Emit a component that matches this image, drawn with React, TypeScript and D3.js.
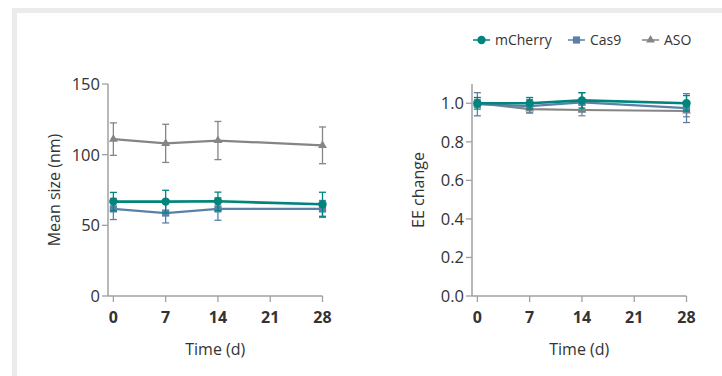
import React from "react";
import * as d3 from "d3";

const days = [0, 7, 14, 28];
const xTicks = [0, 7, 14, 21, 28];

const sizeMCherry = [66.8, 66.8, 67, 64.9];
const sizeMCherryErr = [6.5, 8, 6.5, 8.5];
const sizeCas9 = [61.6, 58.7, 61.6, 61.6];
const sizeCas9Err = [7.5, 7, 8, 6];
const sizeASO = [111, 108, 110, 106.6];
const sizeASOErr = [11.5, 13.5, 13.5, 13];
const sizeTicks = [0, 50, 100, 150];

const eeMCherry = [1.0, 1.0, 1.015, 1.0];
const eeMCherryErr = [0.03, 0.03, 0.04, 0.04];
const eeCas9 = [0.995, 0.985, 1.005, 0.975];
const eeCas9Err = [0.06, 0.035, 0.05, 0.075];
const eeASO = [1.0, 0.97, 0.965, 0.96];
const eeASOErr = [0.02, 0.02, 0.03, 0.03];
const eeTicks = [0, 0.2, 0.4, 0.6, 0.8, 1.0];

const seriesNames = ["mCherry", "Cas9", "ASO"];
const colors = ["#00857c", "#5b80a8", "#858585"];
const FONT = "'Open Sans', 'Noto Sans', sans-serif";
const AXIS = "#a0a0a0";
const TEXT = "#333";

function Marker({ kind, x, y, color }: { kind: number; x: number; y: number; color: string }) {
  if (kind === 0) return <circle cx={x} cy={y} r={4.2} fill={color} />;
  if (kind === 1) return <rect x={x - 3.6} y={y - 3.6} width={7.2} height={7.2} fill={color} />;
  const s = d3.symbol().type(d3.symbolTriangle).size(34)();
  return <path d={s || ""} transform={`translate(${x},${y})`} fill={color} />;
}

function Panel({
  left, yDomain, ticks, fmt, title, series, errs,
}: {
  left: number; yDomain: [number, number]; ticks: number[]; fmt: (v: number) => string;
  title: string; series: number[][]; errs: number[][];
}) {
  const x = d3.scaleLinear().domain([-0.72, 28]).range([left, left + 214.5]);
  const y = d3.scaleLinear().domain(yDomain).range([296, 84]);
  const order = [2, 1, 0];
  return (
    <g>
      <line x1={left} x2={left} y1={y(yDomain[1])} y2={y(0)} stroke={AXIS} strokeWidth={1.5} />
      <line x1={left} x2={x(28)} y1={y(0)} y2={y(0)} stroke={AXIS} strokeWidth={1.5} />
      {ticks.map((t) => (
        <g key={"y" + t}>
          <line x1={left - 6} x2={left} y1={y(t)} y2={y(t)} stroke={AXIS} strokeWidth={1.3} />
          <text x={left - 8} y={y(t)} dy="0.36em" textAnchor="end" fontSize={16.5} fill={TEXT} fontFamily={FONT}>
            {fmt(t)}
          </text>
        </g>
      ))}
      {xTicks.map((t) => (
        <g key={"x" + t}>
          <line x1={x(t)} x2={x(t)} y1={y(0)} y2={y(0) + 6} stroke={AXIS} strokeWidth={1.3} />
          <text x={x(t)} y={323} textAnchor="middle" fontSize={16} fontWeight="bold" fill={TEXT} fontFamily={FONT}>
            {t}
          </text>
        </g>
      ))}
      <text x={(left + x(28)) / 2} y={355} textAnchor="middle" fontSize={16} fill={TEXT} fontFamily={FONT}>
        Time (d)
      </text>
      <text
        transform={`translate(${left - 54},${190}) rotate(-90)`}
        textAnchor="middle"
        dy="0.35em"
        fontSize={16}
        fill={TEXT}
        fontFamily={FONT}
      >
        {title}
      </text>
      {order.map((si) => {
        const vals = series[si];
        const er = errs[si];
        const line = d3
          .line<number>()
          .x((_, i) => x(days[i]))
          .y((v) => y(v));
        return (
          <g key={si}>
            {vals.map((v, i) => (
              <g key={i} stroke={colors[si]} strokeWidth={1.3}>
                <line x1={x(days[i])} x2={x(days[i])} y1={y(v - er[i])} y2={y(v + er[i])} />
                <line x1={x(days[i]) - 3.5} x2={x(days[i]) + 3.5} y1={y(v + er[i])} y2={y(v + er[i])} />
                <line x1={x(days[i]) - 3.5} x2={x(days[i]) + 3.5} y1={y(v - er[i])} y2={y(v - er[i])} />
              </g>
            ))}
            <path d={line(vals) || ""} fill="none" stroke={colors[si]} strokeWidth={si === 0 ? 2.6 : 2.2} />
            {vals.map((v, i) => (
              <Marker key={i} kind={si} x={x(days[i])} y={y(v)} color={colors[si]} />
            ))}
          </g>
        );
      })}
    </g>
  );
}

export default function App() {
  const legendX = [473, 568, 642];
  return (
    <svg
      width={722}
      height={376}
      style={{ position: "absolute", left: 0, top: 0, display: "block" }}
    >
      <rect x={0} y={0} width={722} height={376} fill="#fff" />
      <rect x={12} y={8} width={710} height={368} fill="#ebebeb" />
      <rect x={17} y={13} width={705} height={363} fill="#fff" />
      <g>
        {seriesNames.map((n, i) => (
          <g key={n}>
            <line x1={legendX[i]} x2={legendX[i] + 17} y1={40} y2={40} stroke={colors[i]} strokeWidth={1.5} />
            <Marker kind={i} x={legendX[i] + 8.5} y={40} color={colors[i]} />
            <text x={legendX[i] + 22} y={40} dy="0.35em" fontSize={14} fill={TEXT} fontFamily={FONT}>
              {n}
            </text>
          </g>
        ))}
      </g>
      <Panel
        left={108}
        yDomain={[0, 150]}
        ticks={sizeTicks}
        fmt={(v) => String(v)}
        title="Mean size (nm)"
        series={[sizeMCherry, sizeCas9, sizeASO]}
        errs={[sizeMCherryErr, sizeCas9Err, sizeASOErr]}
      />
      <Panel
        left={472}
        yDomain={[0, 1.1]}
        ticks={eeTicks}
        fmt={(v) => v.toFixed(1)}
        title="EE change"
        series={[eeMCherry, eeCas9, eeASO]}
        errs={[eeMCherryErr, eeCas9Err, eeASOErr]}
      />
    </svg>
  );
}
